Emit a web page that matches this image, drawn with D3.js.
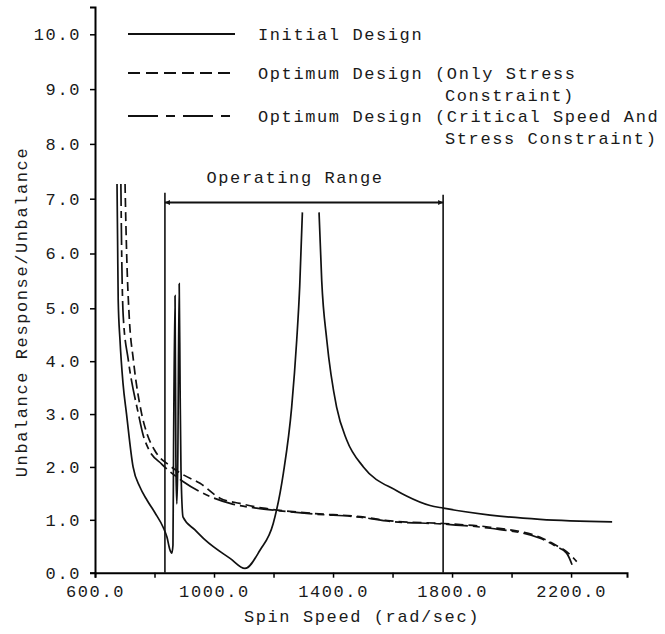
<!DOCTYPE html>
<html>
<head>
<meta charset="utf-8">
<script src="https://cdn.jsdelivr.net/npm/d3@7"></script>
<style>
  body { margin: 0; background: #fff; }
  text { font-family: "Liberation Mono", monospace; font-size: 17px; letter-spacing: 1.6px; fill: #1a1a1a; }
</style>
</head>
<body>
<div id="chart"></div>
<script>
// spin speed (rad/sec) vs unbalance response / unbalance
const initialSpeed = [674, 676, 678, 684, 694, 706, 728, 751, 775, 802, 829, 842, 852, 858, 862, 864, 869, 872, 875, 878, 883, 886, 889, 896, 936, 970, 1054, 1104, 1155, 1199, 1233, 1261, 1278, 1288, 1297, 1325, 1353, 1362, 1379, 1412, 1446, 1502, 1614, 1647, 1726, 1771, 1928, 2096, 2338];
const initialResp = [7.27, 6.2, 5.15, 4.4, 3.59, 3.0, 2.0, 1.62, 1.37, 1.13, 0.86, 0.67, 0.43, 0.37, 0.52, 2.3, 5.23, 2.0, 1.3, 2.0, 5.45, 3.5, 1.94, 1.05, 0.81, 0.62, 0.27, 0.08, 0.43, 0.93, 1.88, 3.13, 4.4, 5.4, 6.75, null, 6.75, 5.5, 4.4, 3.13, 2.51, 2.0, 1.55, 1.45, 1.27, 1.22, 1.09, 1.01, 0.96];

const stressSpeed = [701, 704, 707, 715, 729, 757, 774, 800, 852, 897, 953, 1020, 1087, 1166, 1255, 1334, 1491, 1592, 1771, 1928, 2096, 2152, 2185, 2219];
const stressResp = [7.27, 6.5, 5.88, 4.84, 4.02, 3.0, 2.64, 2.32, 2.02, 1.85, 1.69, 1.41, 1.31, 1.22, 1.16, 1.12, 1.06, 0.98, 0.93, 0.86, 0.67, 0.51, 0.40, 0.21];

const criticalSpeed = [687, 690, 695, 712, 746, 762, 779, 825, 897, 987, 1054, 1143, 1222, 1334, 1491, 1592, 1771, 1928, 2096, 2152, 2185, 2208];
const criticalResp = [7.27, 5.88, 4.84, 4.02, 3.0, 2.6, 2.35, 2.05, 1.72, 1.44, 1.31, 1.22, 1.17, 1.11, 1.05, 0.97, 0.92, 0.84, 0.65, 0.49, 0.37, 0.08];

const operatingRange = [835, 1770];
const xTicks = [600, 800, 1000, 1200, 1400, 1600, 1800, 2000, 2200];
const xLabels = [600, 1000, 1400, 1800, 2200];
const yTicks = [0, 1, 2, 3, 4, 5, 6, 7, 8, 9, 10];

const legendNames = [
  ["Initial Design"],
  ["Optimum Design (Only Stress", "Constraint)"],
  ["Optimum Design (Critical Speed And", "Stress Constraint)"]
];

const width = 665;
const height = 634;

const svg = d3.select("#chart")
  .append("svg")
  .attr("width", width)
  .attr("height", height);

svg.append("rect").attr("width", width).attr("height", height).attr("fill", "#fff");

const x = d3.scaleLinear()
  .domain([600, 2388])
  .range([95, 627]);

// the hand drawn y axis is slightly stretched in its upper half
const y = d3.scaleLinear()
  .domain([0, 5, 10.5])
  .range([572.7, 308.3, 6.9]);

// axes
const xAxis = svg.append("g")
  .attr("transform", `translate(0, ${y(0)})`)
  .call(d3.axisBottom(x)
    .tickValues(xTicks)
    .tickSizeOuter(0)
    .tickSize(5)
    .tickFormat(d => xLabels.includes(d) ? d.toFixed(1) : ""));
xAxis.select(".domain").attr("stroke-width", 2);
xAxis.selectAll(".tick line").attr("stroke-width", 1.5);
xAxis.selectAll("text").attr("y", 24).attr("dy", null).attr("font-size", null).attr("font-family", null);

const yAxis = svg.append("g")
  .attr("transform", `translate(${x(600)}, 0)`)
  .call(d3.axisLeft(y)
    .tickValues(yTicks)
    .tickSizeOuter(0)
    .tickSize(5)
    .tickPadding(9)
    .tickFormat(d => d.toFixed(1)));
yAxis.select(".domain").attr("stroke-width", 2);
yAxis.selectAll(".tick line").attr("stroke-width", 1.5);
yAxis.selectAll("text").attr("font-size", null).attr("font-family", null);

svg.append("text")
  .attr("x", 362)
  .attr("y", 622)
  .attr("text-anchor", "middle")
  .text("Spin Speed (rad/sec)");

svg.append("text")
  .attr("transform", "translate(27, 312) rotate(-90)")
  .attr("text-anchor", "middle")
  .text("Unbalance Response/Unbalance");

// operating range
const opY = 6.93;
svg.append("defs").selectAll("marker")
  .data(["start", "end"])
  .join("marker")
  .attr("id", d => "arrow-" + d)
  .attr("viewBox", "0 0 10 10")
  .attr("refX", 10)
  .attr("refY", 5)
  .attr("markerWidth", 7)
  .attr("markerHeight", 5)
  .attr("markerUnits", "userSpaceOnUse")
  .attr("orient", d => d === "start" ? "auto-start-reverse" : "auto")
  .append("path")
  .attr("d", "M0,0L10,5L0,10Z")
  .attr("fill", "#111");

svg.selectAll(".op-line")
  .data(operatingRange)
  .join("line")
  .attr("class", "op-line")
  .attr("x1", d => x(d))
  .attr("x2", d => x(d))
  .attr("y1", y(0))
  .attr("y2", (d, i) => y(i === 0 ? 7.11 : 7.07))
  .attr("stroke", "#111")
  .attr("stroke-width", 1.6);

svg.append("line")
  .attr("x1", x(operatingRange[0]))
  .attr("x2", x(operatingRange[1]))
  .attr("y1", y(opY))
  .attr("y2", y(opY))
  .attr("stroke", "#111")
  .attr("stroke-width", 2)
  .attr("marker-start", "url(#arrow-start)")
  .attr("marker-end", "url(#arrow-end)");

svg.append("text")
  .attr("x", 295)
  .attr("y", 183)
  .attr("text-anchor", "middle")
  .text("Operating Range");

// curves
const series = [
  { speed: initialSpeed, resp: initialResp, dash: null },
  { speed: stressSpeed, resp: stressResp, dash: "9,5" },
  { speed: criticalSpeed, resp: criticalResp, dash: "22,5,7,5" }
];

const line = d3.line()
  .defined(d => d[1] !== null)
  .x(d => x(d[0]))
  .y(d => y(d[1]))
  .curve(d3.curveMonotoneX);

svg.selectAll(".curve")
  .data(series)
  .join("path")
  .attr("class", "curve")
  .attr("d", s => line(d3.zip(s.speed, s.resp)))
  .attr("fill", "none")
  .attr("stroke", "#111")
  .attr("stroke-width", 1.7)
  .attr("stroke-dasharray", s => s.dash);

// legend
const legendY = [34, 73, 116];
const legendDash = [null, "12,6", "30,8,9,8"];
const legend = svg.selectAll(".legend")
  .data(legendNames)
  .join("g")
  .attr("class", "legend")
  .attr("transform", (d, i) => `translate(0, ${legendY[i]})`);

legend.append("line")
  .attr("x1", 128)
  .attr("x2", 235)
  .attr("stroke", "#111")
  .attr("stroke-width", 2)
  .attr("stroke-dasharray", (d, i) => legendDash[i]);

legend.append("text")
  .attr("x", 258)
  .attr("y", 6)
  .text(d => d[0]);

legend.filter(d => d.length > 1)
  .append("text")
  .attr("x", 445)
  .attr("y", 28)
  .text(d => d[1]);
</script>
</body>
</html>
